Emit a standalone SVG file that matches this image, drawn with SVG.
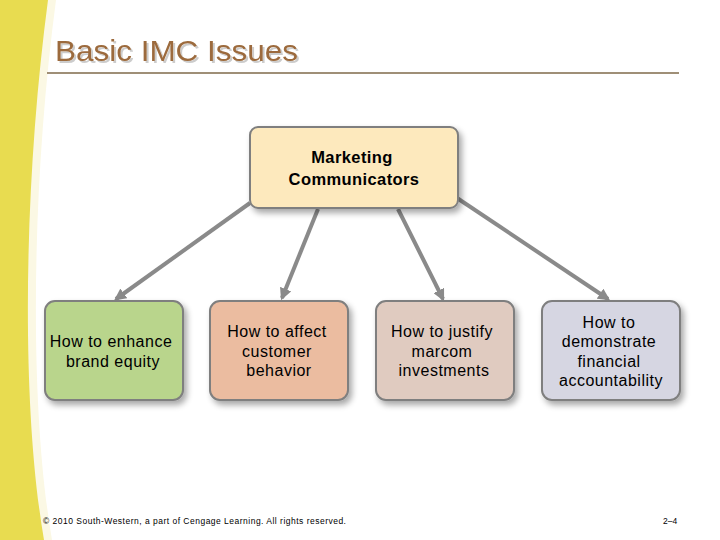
<svg xmlns="http://www.w3.org/2000/svg" width="720" height="540" viewBox="0 0 720 540">
<defs>
<filter id="sh" x="-10%" y="-10%" width="130%" height="140%">
<feGaussianBlur in="SourceAlpha" stdDeviation="3"/>
<feOffset dx="3" dy="4" result="b"/>
<feComponentTransfer><feFuncA type="linear" slope="0.35"/></feComponentTransfer>
<feMerge><feMergeNode/><feMergeNode in="SourceGraphic"/></feMerge>
</filter>
<filter id="tsh" x="-5%" y="-20%" width="110%" height="150%">
<feOffset in="SourceAlpha" dx="1.5" dy="1.5"/>
<feComponentTransfer><feFuncA type="linear" slope="0.2"/></feComponentTransfer>
<feMerge><feMergeNode/><feMergeNode in="SourceGraphic"/></feMerge>
</filter>
<marker id="ah" viewBox="0 0 10 10" refX="8" refY="5" markerWidth="3" markerHeight="3" orient="auto" markerUnits="strokeWidth">
<path d="M0,0 L10,5 L0,10 Z" fill="#8a8a8a"/>
</marker>
</defs>
<style>
.box{stroke:#7f7f7f;stroke-width:2;filter:url(#sh)}
.t{font-family:"Liberation Sans",Arial,sans-serif;font-size:16px;letter-spacing:0.5px;fill:#000;text-anchor:middle}
.b{font-weight:bold;font-size:16.5px;letter-spacing:0.4px}
.con{stroke:#8a8a8a;stroke-width:4;fill:none;marker-end:url(#ah)}
</style>
<rect width="720" height="540" fill="#ffffff"/>
<path d="M0,0 L56,0 C32,180 28,400 52,540 L0,540 Z" fill="#fbf8e4"/>
<path d="M0,0 L48,0 C24,180 20,400 44,540 L0,540 Z" fill="#e8dc50"/>
<text x="55" y="61" font-family="'Liberation Sans',Arial,sans-serif" font-size="30" textLength="243" lengthAdjust="spacingAndGlyphs" fill="#9c6a3c" filter="url(#tsh)">Basic IMC Issues</text>
<line x1="47" y1="73" x2="679" y2="73" stroke="#7f6a4a" stroke-width="1.3"/>
<g id="connectors">
<line class="con" x1="250" y1="203" x2="116" y2="299"/>
<line class="con" x1="318" y1="209" x2="282" y2="298"/>
<line class="con" x1="398" y1="209" x2="443" y2="299"/>
<line class="con" x1="457" y1="198" x2="608" y2="299"/>
</g>
<g id="n0">
<rect class="box" x="250" y="127" width="208" height="81" rx="8" fill="#fde9bd"/>
<text class="t b" x="352" y="163">Marketing</text>
<text class="t b" x="354" y="185">Communicators</text>
</g>
<g id="n1">
<rect class="box" x="45" y="301" width="138" height="99" rx="10" fill="#b9d58c"/>
<text class="t" x="111" y="347">How to enhance</text>
<text class="t" x="113" y="367">brand equity</text>
</g>
<g id="n2">
<rect class="box" x="210" y="301" width="138" height="99" rx="10" fill="#ebbca0"/>
<text class="t" x="277" y="337">How to affect</text>
<text class="t" x="277" y="357">customer</text>
<text class="t" x="279" y="376">behavior</text>
</g>
<g id="n3">
<rect class="box" x="376" y="301" width="138" height="99" rx="10" fill="#e0cbc0"/>
<text class="t" x="442" y="337">How to justify</text>
<text class="t" x="442" y="357">marcom</text>
<text class="t" x="444" y="376">investments</text>
</g>
<g id="n4">
<rect class="box" x="542" y="301" width="138" height="99" rx="10" fill="#d6d6e2"/>
<text class="t" x="609" y="328">How to</text>
<text class="t" x="609" y="347">demonstrate</text>
<text class="t" x="609" y="367">financial</text>
<text class="t" x="611" y="386">accountability</text>
</g>
<text x="43" y="524" font-family="'Liberation Sans',Arial,sans-serif" font-size="8.5" textLength="303" lengthAdjust="spacing" fill="#000">© 2010 South-Western, a part of Cengage Learning. All rights reserved.</text>
<text x="663" y="524" font-family="'Liberation Sans',Arial,sans-serif" font-size="8.5" fill="#000">2–4</text>
</svg>
